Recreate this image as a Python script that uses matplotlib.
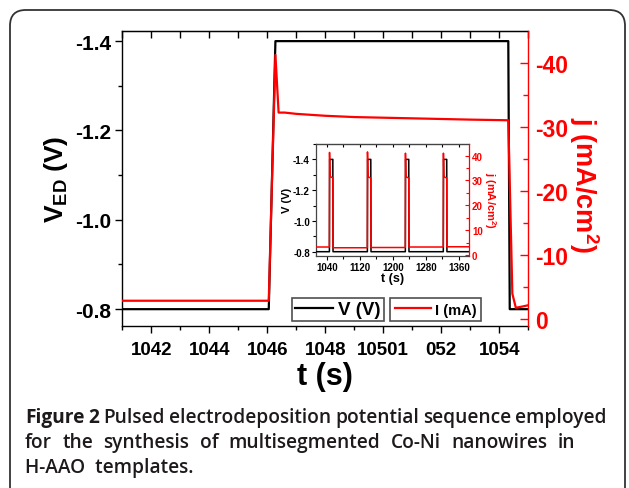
import matplotlib
matplotlib.use("Agg")
import matplotlib.pyplot as plt
from matplotlib.patches import FancyBboxPatch
from matplotlib.lines import Line2D

plt.rcParams['font.family'] = ['Liberation Sans', 'DejaVu Sans']
plt.rcParams['mathtext.fontset'] = 'custom'
plt.rcParams['mathtext.rm'] = 'Liberation Sans:bold'
plt.rcParams['mathtext.bf'] = 'Liberation Sans:bold'
plt.rcParams['mathtext.it'] = 'Liberation Sans:bold'

# ---- main panel data ----
t_V = [1041, 1046.05, 1046.28, 1054.31, 1054.36, 1055]
V = [-0.8, -0.8, -1.4, -1.4, -0.8, -0.8]

t_j = [1041, 1046.05, 1046.28, 1046.39, 1046.6, 1047, 1048, 1049, 1050, 1051,
       1052, 1053, 1054.31, 1054.45, 1054.57, 1054.8, 1055]
j = [-2.9, -2.9, -41.3, -32.3, -32.3, -32.1, -31.8, -31.6, -31.5, -31.4,
     -31.3, -31.2, -31.1, -4.0, -1.8, -2.0, -2.2]

xticks_main = [1042, 1044, 1046, 1048, 1050, 1052, 1054]
xticklabels_main = ['1042', '1044', '1046', '1048', '10501', '052', '1054']
yticks_V = [-1.4, -1.2, -1.0, -0.8]
yticks_j = [-40, -30, -20, -10, 0]

# ---- inset data ----
t_V_in = [1014, 1046, 1046.5, 1054.3, 1054.8, 1138, 1138.5, 1146.3, 1146.8,
          1230, 1230.5, 1238.3, 1238.8, 1322, 1322.5, 1330.3, 1330.8, 1385]
V_in = [-0.8, -0.8, -1.4, -1.4, -0.8, -0.8, -1.4, -1.4, -0.8,
        -0.8, -1.4, -1.4, -0.8, -0.8, -1.4, -1.4, -0.8, -0.8]
t_j_in = [1014, 1046, 1046.3, 1047.5, 1048.5, 1054.3, 1054.8,
          1138, 1138.3, 1139.5, 1140.5, 1146.3, 1146.8,
          1230, 1230.3, 1231.5, 1232.5, 1238.3, 1238.8,
          1322, 1322.3, 1323.5, 1324.5, 1330.3, 1330.8, 1385]
j_in = [3.2, 3.2, 41.3, 32.3, 31.5, 31.1, 2.9,
        2.9, 41.5, 32.0, 31.4, 31.0, 3.0,
        3.0, 41.0, 32.0, 31.4, 31.0, 3.2,
        3.2, 41.0, 32.0, 31.4, 31.0, 3.3, 3.3]
xticks_in = [1040, 1120, 1200, 1280, 1360]
yticks_V_in = [-1.4, -1.2, -1.0, -0.8]
yticks_j_in = [0, 10, 20, 30, 40]

caption_bold = 'Figure 2'
caption_line1 = 'Pulsed electrodeposition potential sequence employed'
caption_line2 = 'for the synthesis of multisegmented Co-Ni nanowires in'
caption_line3 = 'H-AAO templates.'

W, H = 629, 489
fig = plt.figure(figsize=(W / 100, H / 100), dpi=100)

def fr(x0, y0, x1, y1):
    return [x0 / W, 1 - y1 / H, (x1 - x0) / W, (y1 - y0) / H]

# frame around figure
frame = FancyBboxPatch((10 / W, -0.2), (625 - 10) / W, (1 - 11 / H) + 0.2,
                       boxstyle="round,pad=0,rounding_size=0.025",
                       transform=fig.transFigure, fill=False,
                       edgecolor='#333333', linewidth=1.3, mutation_aspect=W / H)
fig.patches.append(frame)

RED = '#ff0000'

# ---- main axes ----
ax = fig.add_axes(fr(122.3, 32.3, 528.3, 326.7))
ax.plot(t_V, V, color='black', lw=1.6, zorder=3)
ax.set_xlim(1041, 1055)
ax.set_ylim(-0.763, -1.422)
ax.set_xticks(xticks_main)
ax.set_xticklabels(xticklabels_main)
ax.set_xticks([1041, 1043, 1045, 1047, 1049, 1051, 1053, 1055], minor=True)
ax.set_yticks(yticks_V)
ax.set_yticklabels(['-1.4', '-1.2', '-1.0', '-0.8'])
ax.set_yticks([-1.3, -1.1, -0.9], minor=True)
ax.tick_params(axis='both', which='both', direction='out', width=1.0)
ax.tick_params(axis='both', which='major', length=5)
ax.tick_params(axis='both', which='minor', length=3)
ax.tick_params(axis='x', labelsize=13.5, pad=6)
ax.tick_params(axis='y', labelsize=15, pad=3)
for lab in ax.get_xticklabels() + ax.get_yticklabels():
    lab.set_fontweight('bold')
ax.spines['right'].set_visible(False)
for s in ['left', 'bottom', 'top']:
    ax.spines[s].set_linewidth(1.0)
ax.set_xlabel('t (s)', fontsize=22, fontweight='bold', labelpad=2)
ax.set_ylabel(r'V$_{\mathrm{ED}}$ (V)', fontsize=19, fontweight='bold', labelpad=4)
ax2t = ax.secondary_xaxis('top')
ax2t.set_xticks(xticks_main)
ax2t.set_xticks([1041, 1043, 1045, 1047, 1049, 1051, 1053, 1055], minor=True)
ax2t.tick_params(which='both', direction='in', labeltop=False, width=1.0, length=5)
ax2t.set_xticklabels([])

axr = ax.twinx()
axr.plot(t_j, j, color=RED, lw=1.6, zorder=3)
axr.set_ylim(1.0, -45)
axr.set_yticks(yticks_j)
axr.set_yticklabels(['-40', '-30', '-20', '-10', '0'])
axr.set_yticks([-35, -25, -15, -5], minor=True)
axr.tick_params(axis='y', which='both', direction='in', colors=RED, width=1.0)
axr.tick_params(axis='y', which='major', length=6, labelsize=16.5, pad=5)
axr.tick_params(axis='y', which='minor', length=3.5)
for lab in axr.get_yticklabels():
    lab.set_fontweight('bold')
axr.spines['right'].set_color(RED)
axr.spines['right'].set_linewidth(1.0)
for s in ['left', 'top', 'bottom']:
    axr.spines[s].set_visible(False)
fig.text(584 / W, 1 - 185 / H, r'j (mA/cm$^{2}$)', color=RED, fontsize=19.5,
         fontweight='bold', rotation=270, ha='center', va='center')

# legends
h1 = Line2D([], [], color='black', lw=1.6)
h2 = Line2D([], [], color=RED, lw=1.6)
leg1 = fig.legend([h1], ['V (V)'], loc='center',
                  bbox_to_anchor=((293 + 383) / 2 / W, 1 - 310.5 / H),
                  prop={'weight': 'bold', 'size': 13.5}, frameon=True, fancybox=False,
                  handlelength=2.0, handletextpad=0.3, borderpad=0.15,
                  borderaxespad=0, edgecolor='#222222')
leg1.get_frame().set_linewidth(1.2)
leg2 = fig.legend([h2], ['I (mA)'], loc='center',
                  bbox_to_anchor=((393 + 478) / 2 / W, 1 - 310.5 / H),
                  prop={'weight': 'bold', 'size': 10.5}, frameon=True, fancybox=False,
                  handlelength=2.5, handletextpad=0.25, borderpad=0.3,
                  borderaxespad=0, edgecolor='#222222')
leg2.get_frame().set_linewidth(1.2)

# ---- inset ----
ai = fig.add_axes(fr(316.2, 145, 469.3, 256.7))
ai.plot(t_V_in, V_in, color='black', lw=1.1, zorder=3)
ai.set_xlim(1014, 1385)
ai.set_ylim(-0.774, -1.5)
ai.set_xticks(xticks_in)
ai.set_xticks([1080, 1160, 1240, 1320], minor=True)
ai.set_yticks(yticks_V_in)
ai.set_yticklabels(['-1.4', '-1.2', '-1.0', '-0.8'])
ai.set_yticks([-1.5, -1.3, -1.1, -0.9], minor=True)
ai.tick_params(axis='both', which='both', direction='out', width=0.8, labelsize=7, pad=1.5)
ai.tick_params(axis='both', which='major', length=3)
ai.tick_params(axis='both', which='minor', length=2)
for lab in ai.get_xticklabels() + ai.get_yticklabels():
    lab.set_fontweight('bold')
ai.spines['right'].set_visible(False)
for s in ['left', 'bottom', 'top']:
    ai.spines[s].set_linewidth(0.9)
    ai.spines[s].set_color('#444444')
ai.set_xlabel('t (s)', fontsize=9, fontweight='bold', labelpad=0)
ai.set_ylabel('V (V)', fontsize=8, fontweight='bold', labelpad=1)
ait = ai.secondary_xaxis('top')
ait.set_xticks(xticks_in)
ait.set_xticks([1080, 1160, 1240, 1320], minor=True)
ait.tick_params(which='both', direction='in', labeltop=False, width=0.8, length=2.5)
ait.set_xticklabels([])

air = ai.twinx()
air.plot(t_j_in, j_in, color=RED, lw=1.1, zorder=3)
air.set_ylim(-0.3, 44.7)
air.set_yticks(yticks_j_in)
air.set_yticks([5, 15, 25, 35], minor=True)
air.tick_params(axis='y', which='both', direction='in', colors=RED, width=0.8,
                labelsize=7, pad=2)
air.tick_params(axis='y', which='major', length=3)
air.tick_params(axis='y', which='minor', length=2)
for lab in air.get_yticklabels():
    lab.set_fontweight('bold')
air.spines['right'].set_color(RED)
air.spines['right'].set_linewidth(0.9)
for s in ['left', 'top', 'bottom']:
    air.spines[s].set_visible(False)
air.set_ylabel(r'j (mA/cm$^{2}$)', color=RED, fontsize=8, fontweight='bold',
               rotation=270, labelpad=11)

# ---- caption ----
cap_kw = dict(fontsize=13.8, family=['Open Sans', 'DejaVu Sans'], color='#1e1a1b',
              va='baseline', ha='left', fontweight='semibold')
fig.canvas.draw()
r = fig.canvas.get_renderer()

def place_justified(words, y, x0, x1, n_bold=0):
    arts = []
    for k, w in enumerate(words):
        kw = dict(cap_kw)
        if k < n_bold:
            kw['fontweight'] = 'bold'
        arts.append(fig.text(0, 1 - y / H, w, **kw))
    widths = [a.get_window_extent(r).width for a in arts]
    gap = (x1 - x0 - sum(widths)) / max(len(arts) - 1, 1)
    x = x0
    for a, wd in zip(arts, widths):
        a.set_x(x / W)
        x += wd + gap

place_justified(caption_bold.split(' ') + caption_line1.split(' '), 423, 25, 607, n_bold=2)
place_justified(caption_line2.split(' '), 448, 25, 575)
t3 = fig.text(25 / W, 1 - 473 / H, caption_line3.replace(' ', '  '), **cap_kw)

fig.savefig('out.png', dpi=100)
